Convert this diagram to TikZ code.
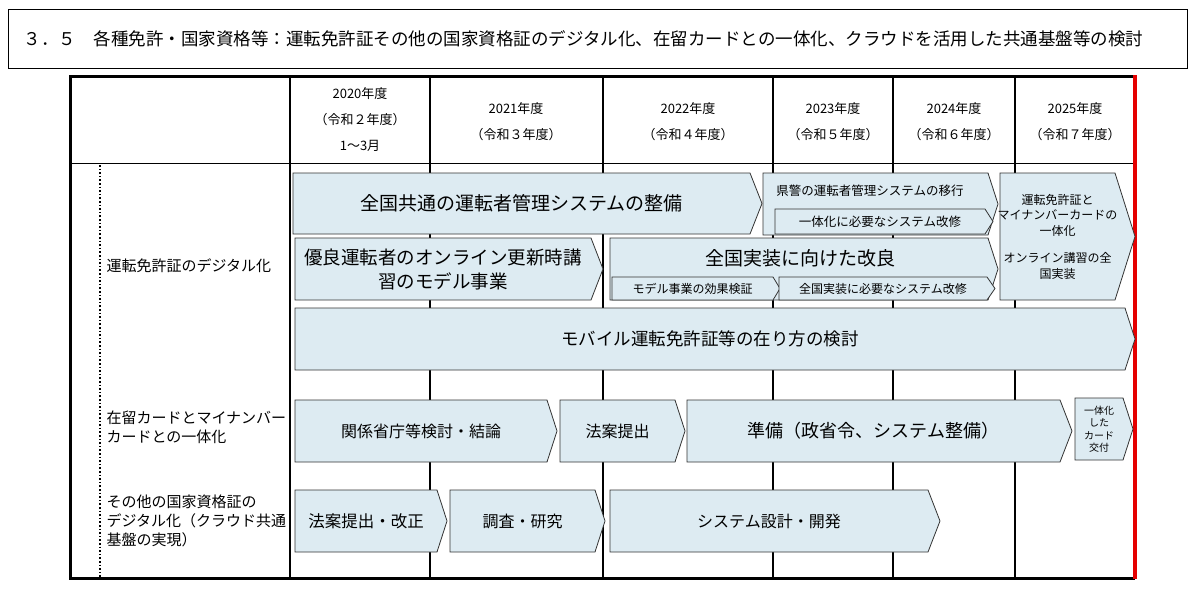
\documentclass[tikz,border=0pt]{standalone}
\usepackage{fontspec}
\setmainfont{Noto Sans CJK JP}
\definecolor{fillb}{RGB}{221,235,242}
\newcommand{\arr}[8]{% x1 y1 x2 y2 tip name fontspec text
 \draw[fill=fillb,draw=black!80,line width=0.8pt] (#1,#2)--(#3-#5,#2)--(#3,{(#2+#4)/2})--(#3-#5,#4)--(#1,#4)--cycle;
 \node[align=center,font=\fontsize#7\selectfont] (#6) at ({(#1+#3-#5)/2},{(#2+#4)/2}) {#8};}
\begin{document}
\begin{tikzpicture}[x=1pt,y=-1pt,font=\fontsize{14}{18}\selectfont]
\useasboundingbox (0,0) rectangle (1200,598);
\draw[line width=1pt] (8,9) rectangle (1187,68);
\node[anchor=west,font=\fontsize{17.5}{20}\selectfont] (title) at (20,39) {３．５　各種免許・国家資格等：運転免許証その他の国家資格証のデジタル化、在留カードとの一体化、クラウドを活用した共通基盤等の検討};
\draw[line width=1pt] (70,163)--(1135,163);
\foreach \x in {290,430,603,773,893,1015} \draw[line width=1.6pt] (\x,75)--(\x,578);
\draw[line width=3pt] (1135,76)--(70,76)--(70,578)--(1135,578);
\draw[red!90!black,line width=3.5pt] (1135,75)--(1135,579);
\draw[line width=1.6pt,dotted] (100,165)--(100,578);
\begin{scope}[font=\fontsize{13}{26}\selectfont]
\node[align=center] (h1) at (360,120) {2020年度\\（令和２年度）\\1～3月};
\node[align=center] (h2) at (516,122) {2021年度\\（令和３年度）};
\node[align=center] (h3) at (688,122) {2022年度\\（令和４年度）};
\node[align=center] (h4) at (833,122) {2023年度\\（令和５年度）};
\node[align=center] (h5) at (954,122) {2024年度\\（令和６年度）};
\node[align=center] (h6) at (1075,122) {2025年度\\（令和７年度）};
\end{scope}
\node[anchor=west,font=\fontsize{15}{19}\selectfont] (r1) at (103,266) {運転免許証のデジタル化};
\node[anchor=west,align=left,font=\fontsize{15}{19}\selectfont] (r2) at (103,427) {在留カードとマイナンバー\\カードとの一体化};
\node[anchor=west,align=left,font=\fontsize{15}{19}\selectfont] (r3) at (103,521) {その他の国家資格証の\\デジタル化（クラウド共通\\基盤の実現）};
\arr{293}{173}{762}{234}{12}{a1}{{19}{24}}{全国共通の運転者管理システムの整備}
\arr{763}{173}{998}{235}{10}{a2x}{{12}{15}}{}
\node[font=\fontsize{12.5}{15}\selectfont] (a2) at (870,191) {県警の運転者管理システムの移行};
\arr{775}{209}{993}{234}{8}{a2b}{{12.5}{15}}{一体化に必要なシステム改修}
\arr{1000}{173}{1135}{300}{20}{a3}{{12}{15.5}}{運転免許証と\\マイナンバーカードの\\一体化\\[12pt]オンライン講習の全\\国実装}
\arr{295}{238}{603}{300}{12}{a4}{{18.5}{24}}{優良運転者のオンライン更新時講\\習のモデル事業}
\arr{610}{238}{998}{300}{10}{a5x}{{12}{15}}{}
\node[font=\fontsize{19}{22}\selectfont] (a5) at (800,258) {全国実装に向けた改良};
\arr{612}{277}{780}{300}{7}{a5b}{{12}{15}}{モデル事業の効果検証}
\arr{779}{277}{995}{300}{8}{a5c}{{12}{15}}{全国実装に必要なシステム改修}
\arr{295}{308}{1135}{370}{10}{a6}{{17.5}{21}}{モバイル運転免許証等の在り方の検討}
\arr{295}{400}{557}{462}{10}{b1}{{16}{20}}{関係省庁等検討・結論}
\arr{560}{400}{685}{462}{10}{b2}{{16}{20}}{法案提出}
\arr{687}{400}{1072}{462}{12}{b3}{{18}{22}}{準備（政省令、システム整備）}
\arr{1075}{398}{1133}{460}{10}{b4}{{10}{12.5}}{一体化\\した\\カード\\交付}
\arr{295}{490}{447}{552}{10}{c1}{{16.5}{20}}{法案提出・改正}
\arr{450}{490}{605}{552}{10}{c2}{{16}{20}}{調査・研究}
\arr{610}{490}{940}{552}{12}{c3}{{16}{20}}{システム設計・開発}
\end{tikzpicture}
\end{document}
